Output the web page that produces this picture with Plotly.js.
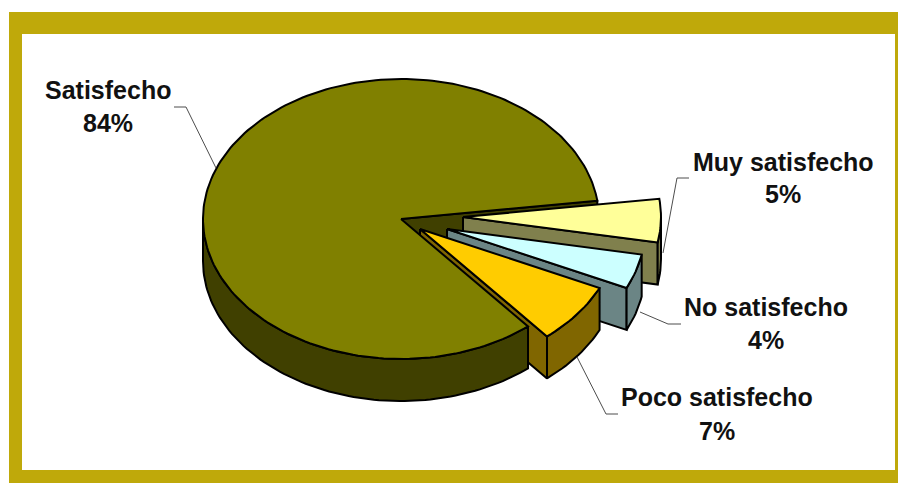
<!DOCTYPE html>
<html>
<head>
<meta charset="utf-8">
<script src="https://cdn.plot.ly/plotly-3.0.1.min.js"></script>
<style>html,body{margin:0;padding:0;background:#fff}#chart{width:898px;height:483px}</style>
</head>
<body>
<div id="chart"></div>
<script>
// Survey results, in clockwise order starting from the right-hand side of the pie
const categories = ['Muy satisfecho', 'No satisfecho', 'Poco satisfecho', 'Satisfecho'];
const values = [5, 4, 7, 84];

// Pie geometry, in plot units (the axes run 1:1 with the page)
const CX = 401, CY = 219, RX = 198, RY = 140, DEPTH = 42, START_DEG = -7.5;
const explodeX = [62, 46, 19, 0];
const explodeY = [-2, 10, 10, 0];

const topColors = ['#FFFF99', '#CCFFFF', '#FFCC00', '#808000'];
const sideColors = ['#80804D', '#6B8585', '#806600', '#404000'];
const OUTLINE = '#000000';

// Label placement: name line, value line, leader polyline
const labelX = [783, 766, 717, 108];
const labelNameY = [162, 307, 397, 90];
const labelValueY = [194, 340, 431, 123];
const leaderX = [[689, 677, 663], [681, 668, 640], [618, 606, 577], [174, 186, 216]];
const leaderY = [[178, 178, 253], [324, 324, 312], [414, 414, 357], [107, 107, 168]];

const total = values.reduce((a, b) => a + b, 0);
const rad = d => d * Math.PI / 180;

// Angular span of each slice, derived from its share of the total
let cursor = START_DEG;
const spans = values.map(v => {
  const s = [cursor, cursor + v / total * 360];
  cursor = s[1];
  return s;
});

function arc(ox, oy, a, b, dz) {
  const n = Math.max(2, Math.ceil(Math.abs(b - a) / 1.5));
  const pts = [];
  for (let i = 0; i <= n; i++) {
    const t = rad(a + (b - a) * i / n);
    pts.push([CX + ox + RX * Math.cos(t), CY + oy + RY * Math.sin(t) + dz]);
  }
  return pts;
}

function poly(pts, color) {
  const closed = pts.concat([pts[0]]);
  return {
    type: 'scatter', mode: 'lines', fill: 'toself', fillcolor: color,
    x: closed.map(p => p[0]), y: closed.map(p => p[1]),
    line: {color: OUTLINE, width: 2, shape: 'linear'},
    hoverinfo: 'skip', showlegend: false
  };
}

function topFace(i) {
  const ox = explodeX[i], oy = explodeY[i];
  return poly([[CX + ox, CY + oy]].concat(arc(ox, oy, spans[i][0], spans[i][1], 0)), topColors[i]);
}

// Radial wall below a slice edge at the given angle
function cutFace(i, deg) {
  const ox = explodeX[i], oy = explodeY[i];
  const edge = arc(ox, oy, deg, deg, 0)[0];
  return poly([[CX + ox, CY + oy], edge, [edge[0], edge[1] + DEPTH], [CX + ox, CY + oy + DEPTH]], sideColors[i]);
}

// Rim of the slice, limited to the half that faces the viewer
function rimFace(i) {
  const ox = explodeX[i], oy = explodeY[i];
  const a = Math.max(spans[i][0], 0), b = Math.min(spans[i][1], 180);
  return poly(arc(ox, oy, a, b, 0).concat(arc(ox, oy, b, a, DEPTH)), sideColors[i]);
}

const big = 3;
const traces = [cutFace(big, spans[big][1])];
[0, 1, 2].forEach(i => {
  traces.push(cutFace(i, spans[i][1]), rimFace(i), topFace(i));
});
traces.push(rimFace(big), topFace(big));

// Leader lines from the labels to their slices
categories.forEach((c, i) => {
  traces.push({
    type: 'scatter', mode: 'lines', x: leaderX[i], y: leaderY[i],
    line: {color: '#4d4d4d', width: 1}, hoverinfo: 'skip', showlegend: false
  });
});

const labelFont = {family: '"Liberation Sans", Arial, sans-serif', size: 25, color: '#111111'};
const annotations = [];
categories.forEach((c, i) => {
  [[`<b>${c}</b>`, labelNameY[i]], [`<b>${values[i]}%</b>`, labelValueY[i]]].forEach(([text, y]) => {
    annotations.push({
      xref: 'x', yref: 'y', x: labelX[i], y, text, showarrow: false,
      xanchor: 'center', yanchor: 'middle', font: labelFont
    });
  });
});

const layout = {
  width: 898, height: 483, autosize: false,
  margin: {l: 0, r: 0, t: 0, b: 0, pad: 0},
  paper_bgcolor: '#ffffff', plot_bgcolor: '#ffffff',
  xaxis: {range: [0, 898], visible: false, fixedrange: true},
  yaxis: {range: [483, 0], visible: false, fixedrange: true},
  shapes: [
    {type: 'rect', layer: 'below', xref: 'x', yref: 'y', x0: 9, x1: 898, y0: 12, y1: 483,
     fillcolor: '#BFA90A', line: {width: 0}},
    {type: 'rect', layer: 'below', xref: 'x', yref: 'y', x0: 22, x1: 895, y0: 34, y1: 470,
     fillcolor: '#ffffff', line: {width: 0}}
  ],
  annotations
};

Plotly.newPlot('chart', traces, layout, {displayModeBar: false, staticPlot: true});
</script>
</body>
</html>
